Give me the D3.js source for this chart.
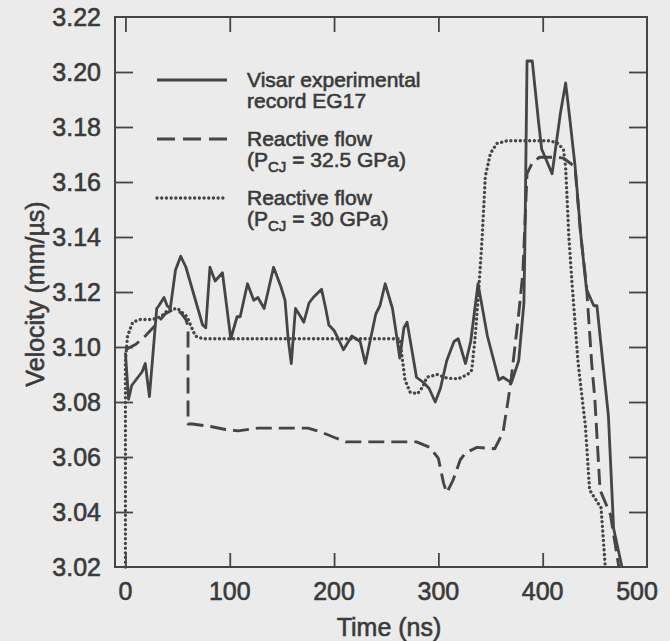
<!DOCTYPE html>
<html>
<head>
<meta charset="utf-8">
<script src="https://cdn.jsdelivr.net/npm/d3@7"></script>
<style>
  body { margin: 0; background: #ebebeb; }
  text { font-family: "Liberation Sans", Arial, sans-serif; fill: #3a3a3a; stroke: #3a3a3a; stroke-width: 0.6px; }
</style>
</head>
<body>
<div id="chart"></div>
<script>
// tick values
const xTicks = [0, 100, 200, 300, 400, 500];
const yTicks = [3.02, 3.04, 3.06, 3.08, 3.10, 3.12, 3.14, 3.16, 3.18, 3.20, 3.22];

// Visar experimental record EG17 : [time ns, velocity mm/us]
const visar = [
  [0,3.098],[3,3.081],[6,3.086],[10,3.088],[16,3.091],[19,3.094],[23,3.082],[30,3.114],
  [32,3.115],[37,3.118],[40,3.115],[43,3.114],[48,3.128],[53,3.133],[58,3.129],[74,3.108],
  [77,3.107],[81,3.129],[86,3.124],[93,3.127],[101,3.103],[107,3.111],[110,3.111],[117,3.123],
  [123,3.117],[127,3.118],[133,3.114],[142,3.129],[149,3.122],[153,3.117],[156,3.103],[159,3.094],
  [163,3.114],[168,3.111],[171,3.109],[176,3.116],[180,3.118],[188,3.121],[192,3.114],[195,3.108],
  [200,3.106],[204,3.103],[209,3.099],[217,3.104],[225,3.102],[230,3.094],[240,3.112],[244,3.115],
  [249,3.123],[256,3.114],[260,3.104],[263,3.096],[267,3.107],[270,3.109],[275,3.098],[279,3.089],
  [286,3.087],[291,3.085],[297,3.080],[302,3.085],[308,3.095],[315,3.102],[319,3.103],[326,3.094],
  [331,3.102],[338,3.123],[347,3.104],[358,3.088],[362,3.089],[370,3.087],[377,3.095],[382,3.116],
  [383,3.139],[385,3.204],[390,3.204],[396,3.182],[399,3.172],[409,3.163],[417,3.185],[422,3.196],
  [426,3.183],[431,3.166],[437,3.139],[442,3.121],[449,3.115],[452,3.115],[463,3.075],[468,3.034],
  [476,3.02]
];

// Reactive flow, P_CJ = 32.5 GPa
const flow325 = [
  [0,3.099],[10,3.101],[19,3.104],[29,3.108],[38,3.112],[45,3.1135],[53,3.1125],[58,3.110],
  [60,3.1075],[60,3.072],[64,3.072],[83,3.071],[96,3.070],[108,3.0695],[127,3.0705],[175,3.0705],
  [188,3.069],[201,3.067],[211,3.0655],[279,3.0655],[292,3.0635],[300,3.0595],[305,3.0505],
  [308,3.047],[314,3.0515],[321,3.059],[326,3.0615],[337,3.0635],[354,3.063],[362,3.069],
  [367,3.081],[370,3.089],[377,3.112],[381,3.127],[385,3.163],[390,3.167],[397,3.169],[412,3.169],
  [420,3.1687],[431,3.1655],[436,3.1425],[442,3.122],[447,3.094],[450,3.081],[455,3.048],
  [465,3.039],[473,3.02]
];

// Reactive flow, P_CJ = 30 GPa
const flow30 = [
  [0,3.02],[0,3.095],[2,3.104],[7,3.109],[14,3.110],[26,3.110],[34,3.111],[41,3.1135],
  [50,3.114],[59,3.111],[67,3.104],[74,3.103],[263,3.103],[265,3.097],[268,3.088],[273,3.0835],
  [280,3.083],[285,3.0855],[289,3.089],[299,3.090],[308,3.0887],[319,3.0884],[328,3.090],
  [332,3.0916],[335,3.1025],[338,3.117],[342,3.140],[345,3.162],[350,3.1705],[356,3.174],
  [366,3.175],[407,3.175],[415,3.174],[420,3.1716],[422,3.1655],[425,3.1407],[428,3.124],
  [434,3.094],[441,3.071],[445,3.048],[456,3.0415],[460,3.02]
];

const width = 670, height = 641;
const margin = { left: 115, right: 23, top: 17, bottom: 74 };
const ink = "#454545";

const svg = d3.select("#chart").append("svg")
  .attr("width", width)
  .attr("height", height);

const x = d3.scaleLinear().domain([-10, 500]).range([margin.left, width - margin.right]);
const y = d3.scaleLinear().domain([3.02, 3.22]).range([height - margin.bottom, margin.top]);

const plotW = x.range()[1] - x.range()[0];
const plotH = y.range()[0] - y.range()[1];

// frame
svg.append("rect")
  .attr("x", x.range()[0]).attr("y", y.range()[1])
  .attr("width", plotW).attr("height", plotH)
  .attr("fill", "none").attr("stroke", ink).attr("stroke-width", 2);

// inward ticks, no labels on these
function tickAxis(axis, tr) {
  const g = svg.append("g").attr("transform", tr).call(axis);
  g.select(".domain").remove();
  g.selectAll(".tick line").attr("stroke", ink).attr("stroke-width", 1.8);
  g.selectAll(".tick text").remove();
}
tickAxis(d3.axisLeft(y).tickValues(yTicks.slice(1, -1)).tickSize(-18), `translate(${x.range()[0]},0)`);
tickAxis(d3.axisRight(y).tickValues(yTicks.slice(1, -1)).tickSize(-18), `translate(${x.range()[1]},0)`);
tickAxis(d3.axisBottom(x).tickValues(xTicks.slice(0, -1)).tickSize(-14), `translate(0,${y.range()[0]})`);
tickAxis(d3.axisTop(x).tickValues(xTicks.slice(0, -1)).tickSize(-15), `translate(0,${y.range()[1]})`);

// tick labels
svg.append("g").selectAll("text")
  .data(yTicks).join("text")
  .attr("x", x.range()[0] - 14)
  .attr("y", d => y(d) + 9)
  .attr("text-anchor", "end")
  .style("font-size", "25px")
  .text(d => d3.format(".2f")(d));

svg.append("g").selectAll("text")
  .data(xTicks).join("text")
  .attr("x", d => x(d) - (d === 500 ? 10 : 0))
  .attr("y", y.range()[0] + 33)
  .attr("text-anchor", "middle")
  .style("font-size", "25px")
  .text(d => d);

// axis titles
svg.append("text")
  .attr("x", 389).attr("y", 636)
  .attr("text-anchor", "middle")
  .style("font-size", "25px")
  .text("Time (ns)");

svg.append("text")
  .attr("transform", "translate(44,294) rotate(-90)")
  .attr("text-anchor", "middle")
  .style("font-size", "25px")
  .text("Velocity (mm/\u00b5s)");

// series
const line = d3.line().x(d => x(d[0])).y(d => y(d[1]));

const styles = {
  dotted: { dash: "0.1,4.6", width: 3.3, cap: "round" },
  dashed: { dash: "16,7", width: 2.9, cap: "butt" },
  solid:  { dash: null, width: 2.8, cap: "butt" }
};

function drawSeries(data, st) {
  svg.append("path")
    .datum(data)
    .attr("d", line)
    .attr("fill", "none")
    .attr("stroke", ink)
    .attr("stroke-width", st.width)
    .attr("stroke-linecap", st.cap)
    .attr("stroke-linejoin", "round")
    .attr("stroke-dasharray", st.dash);
}
drawSeries(flow30, styles.dotted);
drawSeries(flow325, styles.dashed);
drawSeries(visar, styles.solid);

// legend
const legend = [
  { st: styles.solid, y: 80, lines: [["Visar experimental"], ["record EG17"]] },
  { st: styles.dashed, y: 139, lines: [["Reactive flow"], ["(P", "CJ", " = 32.5 GPa)"]] },
  { st: styles.dotted, y: 198, lines: [["Reactive flow"], ["(P", "CJ", " = 30 GPa)"]] }
];

legend.forEach(item => {
  svg.append("line")
    .attr("x1", 157).attr("x2", 227)
    .attr("y1", item.y).attr("y2", item.y)
    .attr("stroke", ink)
    .attr("stroke-width", item.st.width)
    .attr("stroke-linecap", item.st.cap)
    .attr("stroke-dasharray", item.st.dash === "16,7" ? "18,8" : item.st.dash);

  item.lines.forEach((parts, i) => {
    const t = svg.append("text")
      .attr("x", 247)
      .attr("y", item.y + 7 + i * 21)
      .style("font-size", "21px");
    t.append("tspan").text(parts[0]);
    if (parts.length > 1) {
      t.append("tspan").attr("dy", 5).style("font-size", "15px").text(parts[1]);
      t.append("tspan").attr("dy", -5).text(parts[2]);
    }
  });
});
</script>
</body>
</html>
